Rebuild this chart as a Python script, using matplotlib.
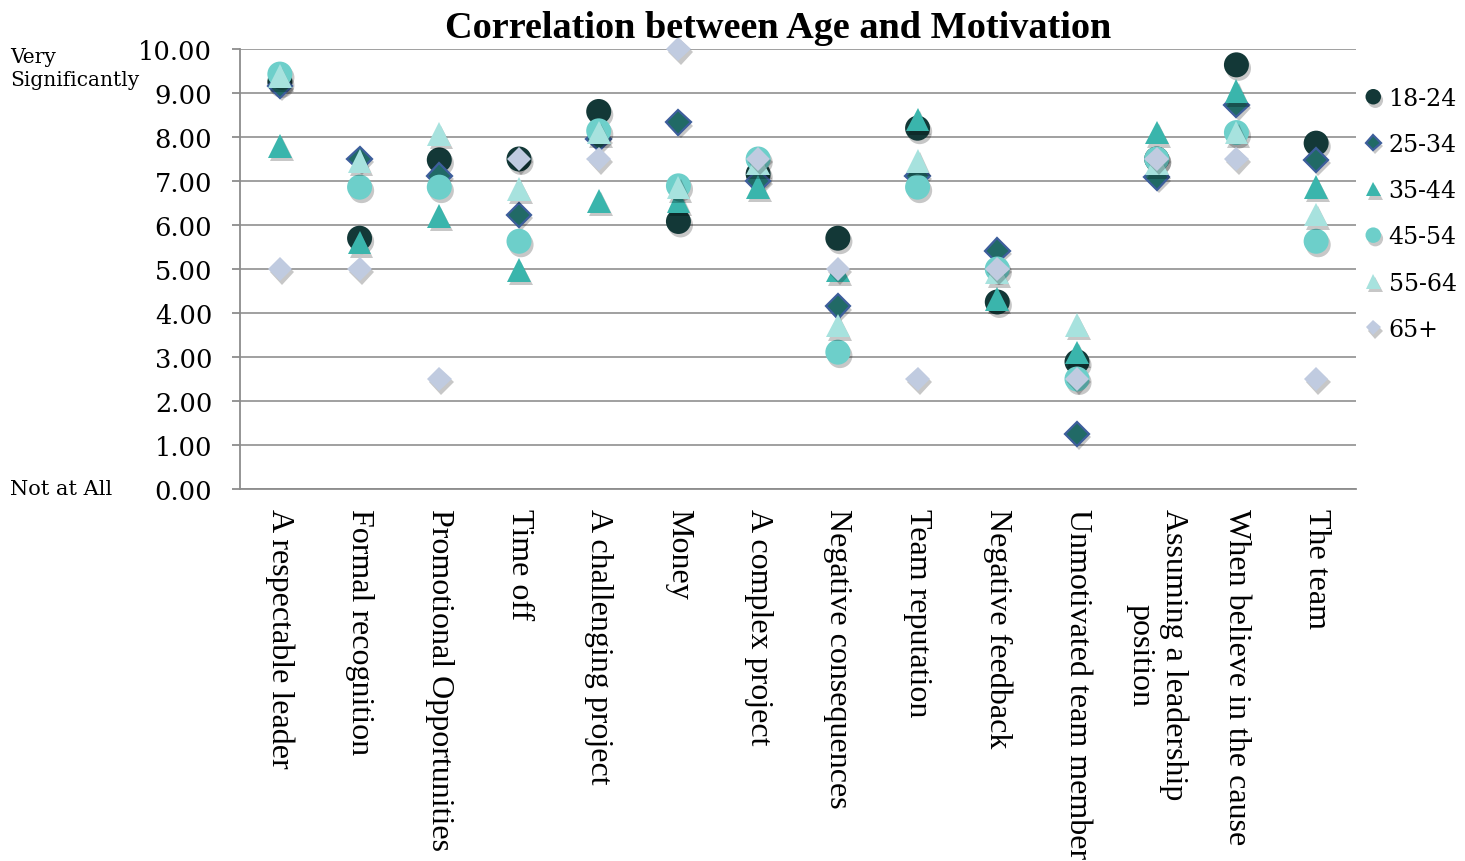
import matplotlib.pyplot as plt
import matplotlib.patheffects as pe
import numpy as np

# data
categories = ['A respectable leader', 'Formal recognition', 'Promotional Opportunities',
              'Time off', 'A challenging project', 'Money', 'A complex project',
              'Negative consequences', 'Team reputation', 'Negative feedback',
              'Unmotivated team member', 'Assuming a leadership\nposition',
              'When believe in the cause', 'The team']
age_groups = ['18-24', '25-34', '35-44', '45-54', '55-64', '65+']

s18_24 = [9.25, 5.70, 7.48, 7.50, 8.58, 6.08, 7.16, 5.70, 8.20, 4.25, 2.89, 7.50, 9.64, 7.86]
s25_34 = [9.17, 7.50, 7.12, 6.23, 7.95, 8.33, 7.00, 4.15, 7.12, 5.42, 1.25, 7.08, 8.73, 7.48]
s35_44 = [7.80, 5.60, 6.20, 4.98, 6.55, 6.55, 6.86, 4.97, 8.40, 4.32, 3.10, 8.10, 9.04, 6.86]
s45_54 = [9.43, 6.86, 6.86, 5.63, 8.14, 6.89, 7.50, 3.11, 6.86, 5.00, 2.50, 7.50, 8.10, 5.63]
s55_64 = [9.38, 7.46, 8.07, 6.82, 8.10, 6.85, 7.40, 3.72, 7.46, 4.92, 3.73, 7.40, 8.10, 6.24]
s65 = [5.00, 5.00, 2.50, 7.50, 7.50, 10.00, 7.50, 5.00, 2.50, 5.00, 2.50, 7.50, 7.50, 2.50]

series = [s18_24, s25_34, s35_44, s45_54, s55_64, s65]
markers = ['o', 'D', '^', 'o', '^', 'D']
sizes = [18, 12.5, 17, 18, 17, 12.5]
faces = ['#133837', '#216a66', '#3ab5ac', '#6dcfca', '#a7e2de', '#c0cbe0']
edges = ['#133837', '#3d5e9c', '#3ab5ac', '#6dcfca', '#a7e2de', '#c0cbe0']
edge_w = [0, 1.6, 0, 0, 0, 0]

fig = plt.figure(figsize=(14.65, 8.62), dpi=100)
ax = fig.add_axes([240 / 1465, 1 - 490 / 862, 1116 / 1465, 440 / 862])

x = np.arange(len(categories))
shadow = [pe.SimplePatchShadow(offset=(1.5, -2.5), shadow_rgbFace='k', alpha=0.22), pe.Normal()]
for i, vals in enumerate(series):
    ax.plot(x, vals, linestyle='none', marker=markers[i], markersize=sizes[i],
            markerfacecolor=faces[i], markeredgecolor=edges[i], markeredgewidth=edge_w[i],
            label=age_groups[i], zorder=3 + i, path_effects=shadow, clip_on=False)

ax.set_xlim(-0.5, len(categories) - 0.5)
ax.set_ylim(0, 10)
ax.set_yticks(np.arange(0, 11, 1))
ax.set_yticklabels(['%.2f' % v for v in range(11)], family='DejaVu Serif', fontsize=18.5)
ax.grid(axis='y', color='#999999', linewidth=1.3, zorder=0)
ax.set_axisbelow(True)
for s in ['top', 'right']:
    ax.spines[s].set_visible(False)
for s in ['left', 'bottom']:
    ax.spines[s].set_color('#8c8c8c')
    ax.spines[s].set_linewidth(1.3)
ax.tick_params(axis='y', length=6, width=1.3, color='#8c8c8c', pad=14)
ax.tick_params(axis='x', length=0, pad=14)
ax.set_xticks(x)
ax.set_xticklabels(categories, rotation=270, ha='center', va='top', multialignment='center',
                   family='Liberation Serif', fontsize=23)

fig.text(778 / 1465, 1 - 29 / 862, 'Correlation between Age and Motivation',
         ha='center', va='center', fontsize=27.5, fontweight='bold', family='Liberation Serif')
fig.text(10 / 1465, 1 - 69 / 862, 'Very\nSignificantly', ha='left', va='center',
         fontsize=14.5, family='DejaVu Serif', linespacing=1.25)
fig.text(10 / 1465, 1 - 490 / 862, 'Not at All', ha='left', va='center',
         fontsize=15, family='DejaVu Serif')

leg = fig.legend(loc='upper left', bbox_to_anchor=(1365 / 1465, 1 - 88 / 862), frameon=False,
                 prop={'family': 'DejaVu Serif', 'size': 17}, markerscale=0.62,
                 handlelength=0.7, handletextpad=0.3, labelspacing=0.98, borderaxespad=0,
                 borderpad=0)

fig.savefig('out.png', dpi=100)
